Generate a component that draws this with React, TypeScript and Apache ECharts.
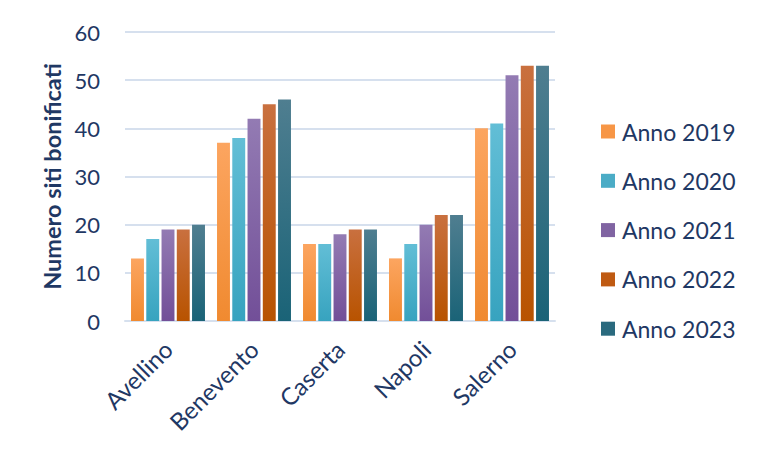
import React, { useEffect, useRef } from "react";
import * as echarts from "echarts";

const categories = ["Avellino", "Benevento", "Caserta", "Napoli", "Salerno"];
const seriesNames = ["Anno 2019", "Anno 2020", "Anno 2021", "Anno 2022", "Anno 2023"];
const anno2019 = [13, 37, 16, 13, 40];
const anno2020 = [17, 38, 16, 16, 41];
const anno2021 = [19, 42, 18, 20, 51];
const anno2022 = [19, 45, 19, 22, 53];
const anno2023 = [20, 46, 19, 22, 53];
const yTicks = [0, 10, 20, 30, 40, 50, 60];

const seriesValues = [anno2019, anno2020, anno2021, anno2022, anno2023];
const colorPairs: [string, string][] = [
  ["#FCA560", "#F08A30"],
  ["#62BED6", "#37A3BF"],
  ["#937BB3", "#724F98"],
  ["#C9703F", "#B85300"],
  ["#4F7E90", "#1A6377"],
];
const legendColors = ["#F79646", "#4BACC6", "#8064A2", "#BF5A12", "#2A6A7E"];
const textColor = "#1F3864";
const font = "Lato, 'Open Sans', sans-serif";

export default function App() {
  const ref = useRef<HTMLDivElement>(null);
  useEffect(() => {
    if (!ref.current) return;
    const chart = echarts.init(ref.current, null, { renderer: "svg" });
    chart.setOption({
      animation: false,
      backgroundColor: "#ffffff",
      textStyle: { fontFamily: font },
      grid: { left: 117, right: 206, top: 24, bottom: 125 },
      legend: {
        orient: "vertical",
        left: 588,
        top: 107,
        itemWidth: 14,
        itemHeight: 14,
        itemGap: 26.3,
        icon: "rect",
        textStyle: { fontSize: 23, color: textColor, fontFamily: font, padding: [0, 0, 0, 2] },
        data: seriesNames.map((n, i) => ({ name: n, itemStyle: { color: legendColors[i] } })),
      },
      xAxis: {
        type: "category",
        data: categories,
        axisLine: { show: true, lineStyle: { color: "#D6E0EE", width: 2 } },
        axisTick: { show: false },
        axisLabel: {
          rotate: 45,
          fontSize: 24,
          color: textColor,
          fontFamily: font,
          margin: 24,
        },
      },
      yAxis: {
        type: "value",
        min: yTicks[0],
        max: yTicks[yTicks.length - 1],
        interval: 10,
        name: "Numero siti bonificati",
        nameLocation: "middle",
        nameGap: 61,
        nameTextStyle: { fontSize: 23.5, fontWeight: "bold", color: textColor, fontFamily: font },
        axisLine: { show: false },
        axisTick: { show: false },
        axisLabel: { fontSize: 22, color: textColor, fontFamily: font, margin: 25 },
        splitLine: { lineStyle: { color: "#D6E0EE", width: 2 } },
      },
      series: seriesNames.map((name, i) => ({
        name,
        type: "bar",
        data: seriesValues[i],
        barGap: "18%",
        barCategoryGap: "14%",
        itemStyle: {
          color: new echarts.graphic.LinearGradient(0, 0, 0, 1, [
            { offset: 0, color: colorPairs[i][0] },
            { offset: 1, color: colorPairs[i][1] },
          ]),
        },
      })),
    });
    return () => chart.dispose();
  }, []);
  return <div ref={ref} style={{ width: 753, height: 438 }} />;
}
